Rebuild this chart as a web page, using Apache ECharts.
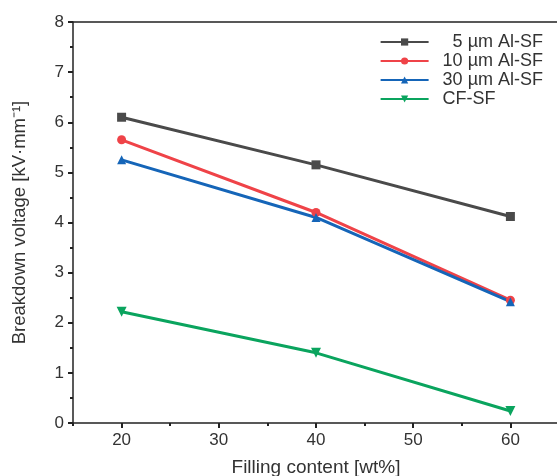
<!DOCTYPE html>
<html><head><meta charset="utf-8">
<script src="https://cdn.jsdelivr.net/npm/echarts@6/dist/echarts.min.js"></script>
<style>html,body{margin:0;padding:0;background:#fff}#c{width:557px;height:476px}</style>
</head><body><div id="c"></div>
<script>
const xValues = [20, 40, 60];
const xTicks = [20, 30, 40, 50, 60];
const seriesNames = ['  5 \u00b5m Al-SF', '10 \u00b5m Al-SF', '30 \u00b5m Al-SF', 'CF-SF'];
const al5 = [6.1, 5.15, 4.12];
const al10 = [5.65, 4.2, 2.45];
const al30 = [5.25, 4.1, 2.42];
const cfsf = [2.22, 1.4, 0.24];
const colors = ['#4a4a4a', '#ef4348', '#1565b8', '#0aa45e'];
const symbols = ['rect', 'circle', 'triangle', 'path://M0,0 L10,0 L5,9 Z'];
const allData = [al5, al10, al30, cfsf];
const font = 'Liberation Sans, Arial, sans-serif';
const fs = 17;

const chart = echarts.init(document.getElementById('c'));
const lineSt = {color: '#222', width: 1.5};
chart.setOption({
  animation: false,
  grid: {left: 73, right: -2, top: 22, bottom: 53, outerBoundsMode: 'none', containLabel: false},
  legend: {
    right: 9, top: 28, orient: 'vertical', itemGap: 1, itemWidth: 48, itemHeight: 9,
    textStyle: {color: '#333', fontSize: 18, fontFamily: font, padding: [0, 0, 0, 9]},
    data: seriesNames
  },
  xAxis: [
    {
      type: 'value', min: 15, max: 65,
      name: 'Filling content [wt%]', nameLocation: 'middle', nameGap: 35,
      nameTextStyle: {color: '#333', fontSize: 19, fontFamily: font},
      axisLine: {show: true, lineStyle: lineSt},
      axisTick: {show: true, inside: false, length: 5, customValues: xTicks, lineStyle: {color: '#222', width: 2}},
      axisLabel: {color: '#333', fontSize: fs, fontFamily: font, margin: 9, customValues: xTicks},
      splitLine: {show: false}
    },
    {
      type: 'value', position: 'bottom', min: 15, max: 65, interval: 5,
      axisLine: {show: false},
      axisTick: {show: true, inside: false, length: 3, lineStyle: {color: '#222', width: 2}},
      axisLabel: {show: false}, splitLine: {show: false}
    },
    {type: 'value', position: 'top', min: 15, max: 65,
     axisLine: {show: true, lineStyle: lineSt},
     axisTick: {show: false}, axisLabel: {show: false}, splitLine: {show: false}}
  ],
  yAxis: {
    type: 'value', min: 0, max: 8, interval: 1,
    name: 'Breakdown voltage [kV\u00b7mm\u207b\u00b9]', nameLocation: 'middle', nameGap: 44,
    nameTextStyle: {color: '#333', fontSize: 18.5, fontFamily: font},
    axisLine: {show: true, lineStyle: lineSt},
    axisTick: {show: true, inside: false, length: 5, lineStyle: {color: '#222', width: 2}},
    minorTick: {show: true, splitNumber: 2, length: 3, lineStyle: {color: '#222', width: 2}},
    axisLabel: {color: '#333', fontSize: fs, fontFamily: font, margin: 9},
    splitLine: {show: false}
  },
  series: allData.map((d, i) => ({
    name: seriesNames[i], type: 'line', xAxisIndex: 0,
    data: xValues.map((x, j) => [x, d[j]]),
    symbol: symbols[i], symbolSize: i === 3 ? 10 : 9,
    lineStyle: {color: colors[i], width: 3},
    itemStyle: {color: colors[i]}
  }))
});
</script></body></html>
